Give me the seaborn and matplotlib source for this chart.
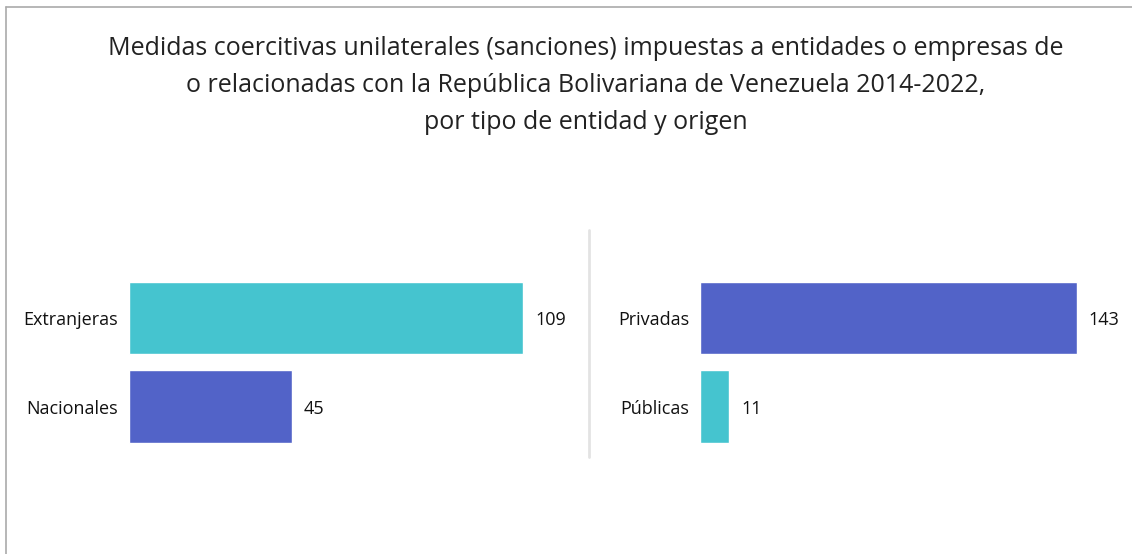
import pandas as pd
import seaborn as sns
from matplotlib import pyplot as plt
from matplotlib.lines import Line2D

# data
origen_labels = ['Extranjeras', 'Nacionales']
origen_values = [109, 45]
tipo_labels = ['Privadas', 'Públicas']
tipo_values = [143, 11]

teal = '#45C4CF'
blue = '#5263C8'

title = ('Medidas coercitivas unilaterales (sanciones) impuestas a entidades o empresas de\n'
         'o relacionadas con la República Bolivariana de Venezuela 2014-2022,\n'
         'por tipo de entidad y origen')

sns.set_style('white')
plt.rcParams['font.family'] = ['Open Sans', 'DejaVu Sans']

fig = plt.figure(figsize=(11.32, 5.54), dpi=100)
fig.patch.set_facecolor('white')

# panel positions in figure fractions
ax_left = fig.add_axes([0.1140, 0.1704, 0.3834, 0.3513])
ax_right = fig.add_axes([0.6185, 0.1704, 0.3489, 0.3513])


def draw_panel(ax, labels, values, colors, xmax):
    df = pd.DataFrame({'label': labels, 'value': values})
    sns.barplot(data=df, x='value', y='label', hue='label', palette=colors,
                orient='h', width=0.82, legend=False, ax=ax, saturation=1)
    ax.set_xlim(0, xmax)
    ax.set_ylim(1.6, -0.6)
    ax.set_xlabel('')
    ax.set_ylabel('')
    ax.set_xticks([])
    ax.tick_params(axis='y', length=0, pad=8, labelsize=13, labelcolor='#111111')
    for s in ax.spines.values():
        s.set_visible(False)
    for c in ax.containers:
        for t in ax.bar_label(c, padding=8.5, fontsize=13, color='#111111'):
            t.set_verticalalignment('center_baseline')


draw_panel(ax_left, origen_labels, origen_values, [teal, blue], 120)
draw_panel(ax_right, tipo_labels, tipo_values, [blue, teal], 150)

fig.text(586 / 1132, 1 - 36 / 554, title, ha='center', va='top',
         fontsize=18, color='#222222', linespacing=1.62)

# separator between panels
fig.add_artist(Line2D([589 / 1132, 589 / 1132], [1 - 230 / 554, 1 - 457 / 554],
                      color='#e3e3e3', lw=2))
# frame lines top and left
fig.add_artist(Line2D([6 / 1132, 1], [1 - 7 / 554, 1 - 7 / 554], color='#aaaaaa', lw=1.2))
fig.add_artist(Line2D([6 / 1132, 6 / 1132], [0, 1 - 7 / 554], color='#aaaaaa', lw=1.2))

fig.savefig('out.png', dpi=100, facecolor='white')
